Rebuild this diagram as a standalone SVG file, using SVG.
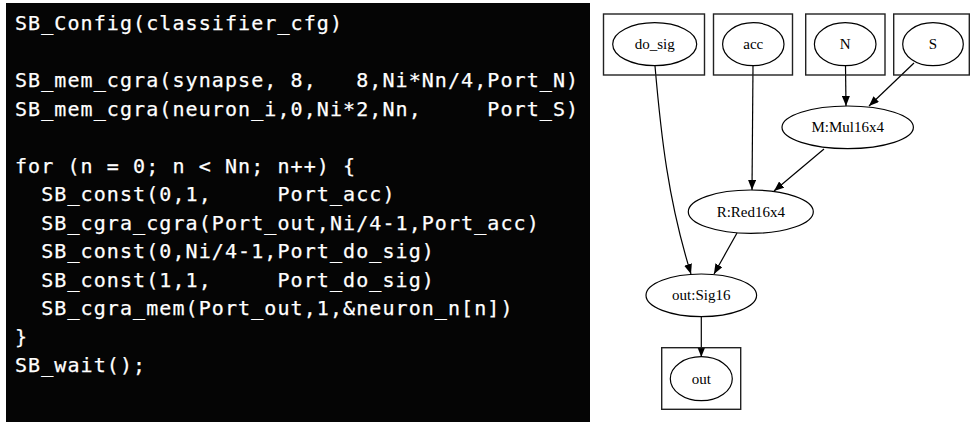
<svg xmlns="http://www.w3.org/2000/svg" width="979" height="422" viewBox="0 0 979 422">
<style>
.code{font-family:"DejaVu Sans Mono","Liberation Mono",monospace;font-size:20px;letter-spacing:1.08px;fill:#fff;stroke:#fff;stroke-width:0.25;white-space:pre}
.lbl{font-family:"Liberation Serif","Times New Roman",serif;font-size:15px;fill:#000;text-anchor:middle}
.box{fill:none;stroke:#222;stroke-width:1.4}
.nd{fill:none;stroke:#000;stroke-width:1.2}
.edge{fill:none;stroke:#000;stroke-width:1.2;marker-end:url(#arr)}
</style>
<defs>
<marker id="arr" viewBox="0 0 10 8" refX="10" refY="4" markerWidth="10" markerHeight="8" markerUnits="userSpaceOnUse" orient="auto">
<path d="M0,0 L10,4 L0,8 Z" fill="#000"/>
</marker>
</defs>
<rect width="979" height="422" fill="#fff"/>
<g id="code">
<rect x="6" y="3" width="584" height="419" fill="#050505"/>
<text class="code" x="15" y="30">SB_Config(classifier_cfg)</text>
<text class="code" x="15" y="87">SB_mem_cgra(synapse, 8,   8,Ni*Nn/4,Port_N)</text>
<text class="code" x="15" y="115.5">SB_mem_cgra(neuron_i,0,Ni*2,Nn,     Port_S)</text>
<text class="code" x="15" y="172.5">for (n = 0; n &lt; Nn; n++) {</text>
<text class="code" x="15" y="201">  SB_const(0,1,     Port_acc)</text>
<text class="code" x="15" y="229.5">  SB_cgra_cgra(Port_out,Ni/4-1,Port_acc)</text>
<text class="code" x="15" y="258">  SB_const(0,Ni/4-1,Port_do_sig)</text>
<text class="code" x="15" y="286.5">  SB_const(1,1,     Port_do_sig)</text>
<text class="code" x="15" y="315">  SB_cgra_mem(Port_out,1,&amp;neuron_n[n])</text>
<text class="code" x="15" y="343.5">}</text>
<text class="code" x="15" y="372">SB_wait();</text>
</g>
<g id="edges">
<path class="edge" d="M655,66 C661,135 668,200 691,274"/>
<path class="edge" d="M753,66 L752,190"/>
<path class="edge" d="M845.5,66 L846,106"/>
<path class="edge" d="M914,63 L869,106"/>
<path class="edge" d="M824,149 L774,191"/>
<path class="edge" d="M737,233 L714,274"/>
<path class="edge" d="M701.3,317 L701.3,357"/>
</g>
<g id="n-do_sig">
<rect class="box" x="603.5" y="14" width="101" height="61"/>
<ellipse class="nd" cx="654.7" cy="44.2" rx="42" ry="21.5"/>
<text class="lbl" x="654.7" y="49">do_sig</text>
</g>
<g id="n-acc">
<rect class="box" x="713.5" y="14" width="79" height="61"/>
<ellipse class="nd" cx="753.3" cy="44.2" rx="30.7" ry="21.5"/>
<text class="lbl" x="753.3" y="49">acc</text>
</g>
<g id="n-N">
<rect class="box" x="805.7" y="14" width="79.3" height="61"/>
<ellipse class="nd" cx="845.2" cy="44.2" rx="30.8" ry="21.5"/>
<text class="lbl" x="845.2" y="49">N</text>
</g>
<g id="n-S">
<rect class="box" x="893.7" y="14" width="75.6" height="61"/>
<ellipse class="nd" cx="933" cy="44.2" rx="30.3" ry="21.5"/>
<text class="lbl" x="933" y="49">S</text>
</g>
<g id="n-M">
<ellipse class="nd" cx="847.7" cy="127.3" rx="65.7" ry="21.3"/>
<text class="lbl" x="847.7" y="132">M:Mul16x4</text>
</g>
<g id="n-R">
<ellipse class="nd" cx="750.8" cy="211.7" rx="62.5" ry="21.7"/>
<text class="lbl" x="750.8" y="216.5">R:Red16x4</text>
</g>
<g id="n-sig">
<ellipse class="nd" cx="701.3" cy="295.3" rx="55.3" ry="21.3"/>
<text class="lbl" x="701.3" y="300">out:Sig16</text>
</g>
<g id="n-out">
<rect class="box" x="661.7" y="347.7" width="79" height="61.6"/>
<ellipse class="nd" cx="701.3" cy="378.7" rx="31" ry="22"/>
<text class="lbl" x="701.3" y="383.5">out</text>
</g>
</svg>
